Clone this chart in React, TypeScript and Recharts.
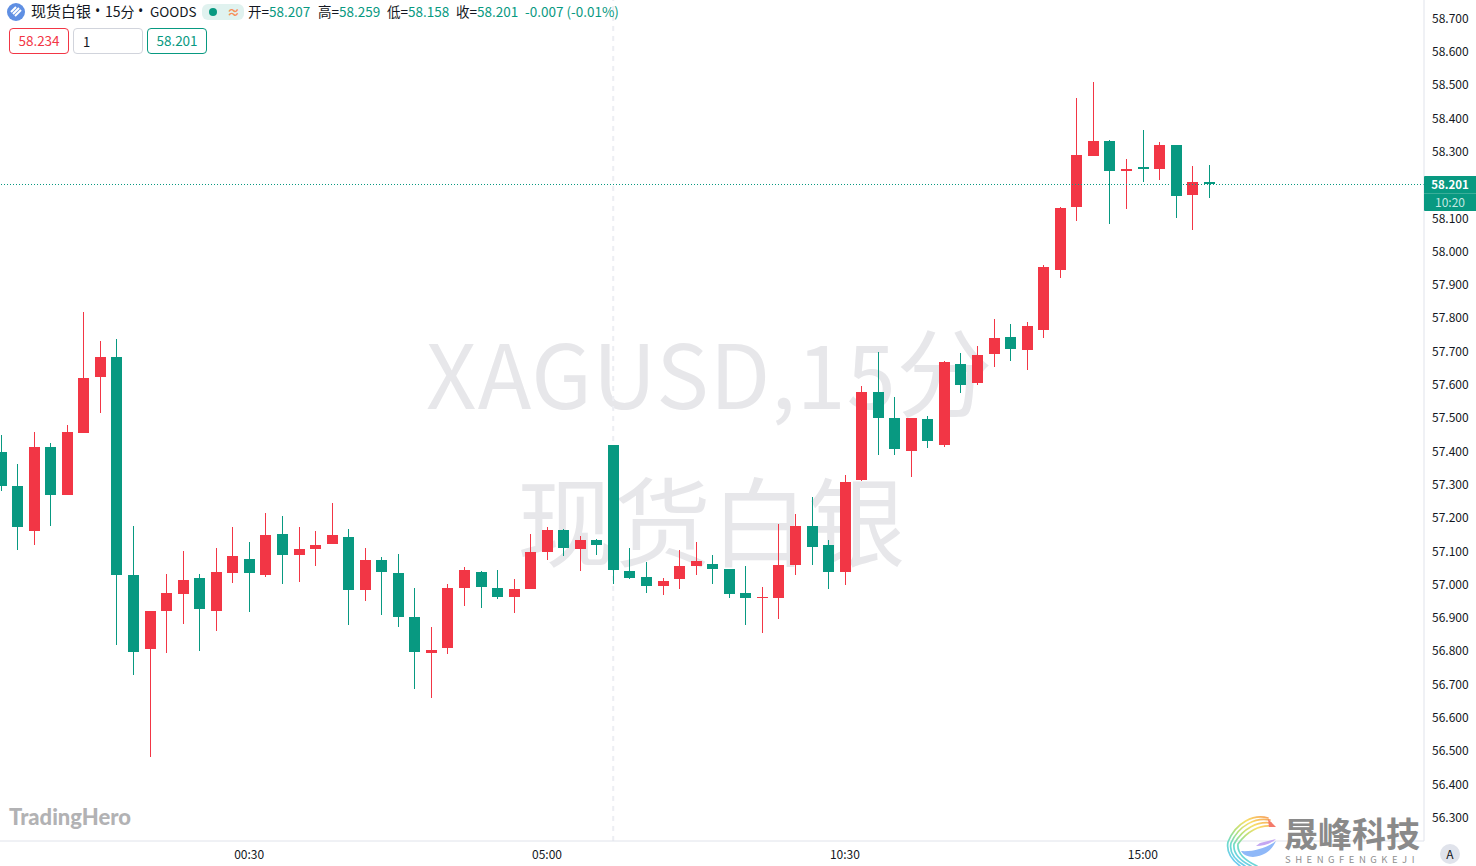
import { ComposedChart, Bar, XAxis, YAxis, ReferenceLine } from 'recharts'

const UP = '#f23645'
const DOWN = '#089981'
const FONT = '"Noto Sans CJK SC", "Noto Sans", sans-serif'

const opens = [
  57.397, 57.295, 57.159, 57.412, 57.268, 57.454, 57.622, 57.682, 57.027, 56.805,
  56.919, 56.970, 57.018, 56.919, 57.033, 57.075, 57.027, 57.150, 57.087, 57.105,
  57.120, 57.141, 56.982, 57.072, 57.033, 56.901, 56.793, 56.808, 56.988, 57.036,
  56.988, 56.961, 56.985, 57.096, 57.162, 57.105, 57.132, 57.418, 57.039, 57.021,
  56.994, 57.015, 57.054, 57.060, 57.045, 56.973, 56.958, 56.958, 57.057, 57.174,
  57.117, 57.036, 57.313, 57.577, 57.499, 57.400, 57.496, 57.418, 57.661, 57.604,
  57.691, 57.742, 57.703, 57.763, 57.943, 58.132, 58.286, 58.331, 58.241, 58.253,
  58.247, 58.319, 58.168, 58.207,
]
const highs = [
  57.448, 57.361, 57.457, 57.424, 57.478, 57.817, 57.730, 57.736, 57.174, 56.919,
  57.030, 57.099, 57.030, 57.108, 57.171, 57.126, 57.213, 57.204, 57.171, 57.159,
  57.243, 57.165, 57.108, 57.081, 57.090, 56.988, 56.871, 57.000, 57.051, 57.039,
  57.042, 57.015, 57.150, 57.171, 57.165, 57.144, 57.135, 57.418, 57.108, 57.066,
  57.018, 57.102, 57.126, 57.087, 57.045, 57.054, 56.991, 57.180, 57.210, 57.261,
  57.132, 57.328, 57.595, 57.697, 57.562, 57.499, 57.505, 57.670, 57.694, 57.715,
  57.796, 57.781, 57.787, 57.958, 58.132, 58.460, 58.508, 58.334, 58.277, 58.364,
  58.328, 58.319, 58.256, 58.259,
]
const lows = [
  57.280, 57.102, 57.117, 57.174, 57.268, 57.454, 57.514, 56.817, 56.727, 56.481,
  56.793, 56.880, 56.799, 56.859, 57.003, 56.916, 57.021, 57.000, 57.006, 57.054,
  57.120, 56.877, 56.949, 56.907, 56.871, 56.685, 56.658, 56.790, 56.934, 56.928,
  56.955, 56.913, 56.985, 57.072, 57.084, 57.039, 57.087, 57.000, 57.015, 56.973,
  56.967, 56.985, 57.027, 57.000, 56.958, 56.877, 56.853, 56.895, 57.027, 57.057,
  56.985, 56.997, 57.310, 57.388, 57.388, 57.322, 57.409, 57.412, 57.574, 57.598,
  57.652, 57.670, 57.643, 57.739, 57.919, 58.090, 58.286, 58.081, 58.126, 58.208,
  58.214, 58.099, 58.063, 58.158,
]
const closes = [
  57.295, 57.171, 57.412, 57.268, 57.457, 57.619, 57.682, 57.027, 56.796, 56.919,
  56.973, 57.012, 56.925, 57.036, 57.084, 57.033, 57.147, 57.087, 57.105, 57.117,
  57.147, 56.982, 57.072, 57.036, 56.901, 56.796, 56.802, 56.988, 57.042, 56.991,
  56.961, 56.985, 57.096, 57.162, 57.108, 57.132, 57.117, 57.042, 57.018, 56.994,
  57.009, 57.054, 57.069, 57.045, 56.970, 56.958, 56.961, 57.057, 57.174, 57.111,
  57.036, 57.307, 57.577, 57.499, 57.406, 57.499, 57.430, 57.667, 57.598, 57.688,
  57.739, 57.706, 57.775, 57.952, 58.129, 58.289, 58.331, 58.241, 58.247, 58.247,
  58.319, 58.165, 58.208, 58.201,
]

// 58.200 sits under the last price tag in the original, so it is left out
const priceTicks = [
  58.7, 58.6, 58.5, 58.4, 58.3, 58.1, 58.0, 57.9, 57.8, 57.7, 57.6, 57.5,
  57.4, 57.3, 57.2, 57.1, 57.0, 56.9, 56.8, 56.7, 56.6, 56.5, 56.4, 56.3,
]
const timeTicks = [15, 33, 51, 69]
const timeLabels = ['00:30', '05:00', '10:30', '15:00']
const sessionBreak = 37
const lastPrice = 58.201

const data = opens.map((open, i) => ({
  idx: i,
  open,
  close: closes[i],
  range: [lows[i], highs[i]],
}))

function Candle(props: any) {
  const { x, y, width, height, payload } = props
  const [low, high] = payload.range
  const perUnit = height / (high - low)
  const color = payload.close >= payload.open ? UP : DOWN
  const top = y + (high - Math.max(payload.open, payload.close)) * perUnit
  const bottom = y + (high - Math.min(payload.open, payload.close)) * perUnit
  const mid = Math.floor(x + width / 2)
  return (
    <g shapeRendering="crispEdges">
      <rect x={mid} y={Math.round(y)} width={1} height={Math.max(1, Math.round(y + height) - Math.round(y))} fill={color} />
      <rect x={mid - 5} y={Math.round(top)} width={width} height={Math.max(1, Math.round(bottom) - Math.round(top))} fill={color} />
    </g>
  )
}

function abs(left: number, top: number, extra: React.CSSProperties = {}): React.CSSProperties {
  return { position: 'absolute', left, top, whiteSpace: 'nowrap', ...extra }
}

function Quote({ left, label, value }: { left: number; label: string; value: string }) {
  return (
    <div style={abs(left, 2, { fontSize: 13.5, lineHeight: '18px', color: '#131722' })}>
      {label}=<span style={{ color: DOWN }}>{value}</span>
    </div>
  )
}

function TradeBox({ left, width, text, color, border }: { left: number; width: number; text: string; color: string; border: string }) {
  return (
    <div
      style={abs(left, 28, {
        width,
        height: 26,
        boxSizing: 'border-box',
        border: `1px solid ${border}`,
        borderRadius: 4,
        textAlign: 'center',
        fontSize: 13.5,
        lineHeight: '22px',
        color,
        background: '#fff',
      })}
    >
      {text}
    </div>
  )
}

function Logo() {
  return (
    <svg width={56} height={52} viewBox="0 0 56 52" style={abs(1224, 814)}>
      <defs>
        <linearGradient id="swirl" gradientUnits="userSpaceOnUse" x1={44} y1={3} x2={12} y2={52}>
          <stop offset="0" stopColor="#f7a35c" />
          <stop offset="0.25" stopColor="#f8e06a" />
          <stop offset="0.5" stopColor="#b4e07a" />
          <stop offset="0.72" stopColor="#6fdcc8" />
          <stop offset="1" stopColor="#6cc8f8" />
        </linearGradient>
      </defs>
      <g fill="none" stroke="url(#swirl)" strokeWidth={1.7} strokeLinecap="round">
        <path d="M44 4 C30 0 12 8 4 28 C2 38 8 46 16 52" />
        <path d="M46 6 C32 3 15 11 7 29 C5 38 11 46 21 52" />
        <path d="M47 9 C34 7 19 14 10 30 C9 38 15 46 27 52" />
        <path d="M47 12 C36 11 23 17 14 30 C13 38 20 46 33 52" />
      </g>
      <path d="M44 5 L52 13 L45 13 Z" fill="#f47a6a" />
      <path d="M52 27 C44 33 30 38 17 37 C22 45 34 44 42 39 C47 36 50 31 52 27 Z" fill="#8fb8f8" />
      <path d="M52 25 L36 29 L32 32 C40 32 48 29 52 25 Z" fill="#c3a6f2" />
    </svg>
  )
}

export default function App() {
  return (
    <div style={{ position: 'absolute', left: 0, top: 0, width: 1476, height: 866, overflow: 'hidden', background: '#fff', fontFamily: FONT }}>
      <div style={abs(426, 305, { fontSize: 88, lineHeight: '126px', letterSpacing: 1, color: '#e7e7ea' })}>
        XAGUSD,15<span style={{ fontSize: 96 }}>分</span>
      </div>
      <div style={abs(517, 454, { fontSize: 97, lineHeight: '126px', color: '#e7e7ea' })}>现货白银</div>

      <ComposedChart
        width={1476}
        height={866}
        data={data}
        margin={{ top: 0, right: 0, bottom: 0, left: 0 }}
        style={{ position: 'absolute', left: 0, top: 0 }}
      >
        <XAxis
          dataKey="idx"
          type="number"
          domain={[-0.0532, 85.99]}
          allowDataOverflow
          ticks={timeTicks}
          interval={0}
          height={25}
          tickSize={0}
          tickMargin={9}
          axisLine={{ stroke: '#e0e3eb' }}
          tickLine={false}
          tick={{ fill: '#131722', fontSize: 12, fontFamily: FONT }}
          tickFormatter={(v: number) => timeLabels[timeTicks.indexOf(v)]}
        />
        <YAxis
          orientation="right"
          width={52}
          domain={[56.2285, 58.754]}
          allowDataOverflow
          ticks={priceTicks}
          interval={0}
          tickSize={0}
          tickMargin={8}
          axisLine={{ stroke: '#e0e3eb' }}
          tickLine={false}
          tick={{ fill: '#131722', fontSize: 12, fontFamily: FONT, textAnchor: 'start', dy: 0.5 }}
          tickFormatter={(v: number) => v.toFixed(3)}
        />
        <ReferenceLine x={sessionBreak} stroke="#eceef3" strokeWidth={2} strokeDasharray="5 5" zIndex={100} />
        <Bar dataKey="range" barSize={11} isAnimationActive={false} shape={<Candle />} />
        <ReferenceLine y={lastPrice} stroke={DOWN} strokeDasharray="1 2" shapeRendering="crispEdges" />
      </ComposedChart>

      {/* legend row */}
      <svg width={20} height={20} style={abs(6, 2)}>
        <circle cx={10} cy={10} r={9} fill="#5f8fe3" />
        <path d="M5 10 L10 5 M7 12 L13 6 M9 14 L15 8" stroke="#fff" strokeWidth={2} />
      </svg>
      <div style={abs(31, 2, { fontSize: 15, lineHeight: '18px', color: '#131722' })}>现货白银</div>
      <div style={abs(95, 2, { fontFamily: 'Noto Sans', fontSize: 14, lineHeight: '18px', color: '#131722' })}>•</div>
      <div style={abs(105, 2, { fontSize: 14, lineHeight: '18px', color: '#131722' })}>15分</div>
      <div style={abs(138, 2, { fontFamily: 'Noto Sans', fontSize: 14, lineHeight: '18px', color: '#131722' })}>•</div>
      <div style={abs(150, 2, { fontSize: 13.5, lineHeight: '18px', color: '#131722' })}>GOODS</div>
      <div style={abs(202, 4, { width: 42, height: 16, borderRadius: 6, background: '#e0f2ef' })}>
        <div style={abs(7, 4, { width: 8, height: 8, borderRadius: 4, background: DOWN })} />
        <div style={abs(25, -1, { fontSize: 13, lineHeight: '18px', fontWeight: 700, color: '#f7905a' })}>≈</div>
      </div>
      <Quote left={248} label="开" value="58.207" />
      <Quote left={318} label="高" value="58.259" />
      <Quote left={387} label="低" value="58.158" />
      <Quote left={456} label="收" value="58.201" />
      <div style={abs(525, 2, { fontSize: 13.5, lineHeight: '18px', color: DOWN })}>-0.007 (-0.01%)</div>

      <TradeBox left={9} width={60} text="58.234" color={UP} border={UP} />
      <TradeBox left={73} width={70} text="" color="#131722" border="#d1d4dc" />
      <div style={abs(83, 33, { fontSize: 13, lineHeight: '18px', color: '#131722' })}>1</div>
      <TradeBox left={147} width={60} text="58.201" color={DOWN} border={DOWN} />

      {/* last price tag */}
      <div style={abs(1424, 176, { width: 52, height: 35, background: DOWN, borderRadius: '1px 0 0 1px' })} />
      <div style={abs(1424, 193, { width: 52, height: 1, background: '#3aae99' })} />
      <div style={abs(1424, 176, { width: 52, color: '#fff', fontSize: 11.5, fontWeight: 600, lineHeight: '16px', textAlign: 'center' })}>58.201</div>
      <div style={abs(1424, 194, { width: 52, color: '#c4e8e1', fontSize: 12, lineHeight: '16px', textAlign: 'center' })}>10:20</div>

      <div style={abs(9, 803, { fontFamily: 'Lato', fontSize: 22, lineHeight: '28px', fontWeight: 900, color: '#b2b2b4' })}>TradingHero</div>

      <Logo />
      <div style={abs(1284, 816, { fontSize: 34, lineHeight: '34px', fontWeight: 700, color: '#8a8a8a' })}>晟峰科技</div>
      <div style={abs(1285, 854, { fontSize: 9.5, lineHeight: '10px', letterSpacing: 4.5, color: '#8f8f8f' })}>SHENGFENGKEJI</div>

      <div style={abs(1440, 844, { width: 20, height: 20, borderRadius: 10, background: '#e0e3eb', color: '#131722', fontSize: 12, lineHeight: '20px', textAlign: 'center' })}>A</div>
    </div>
  )
}
